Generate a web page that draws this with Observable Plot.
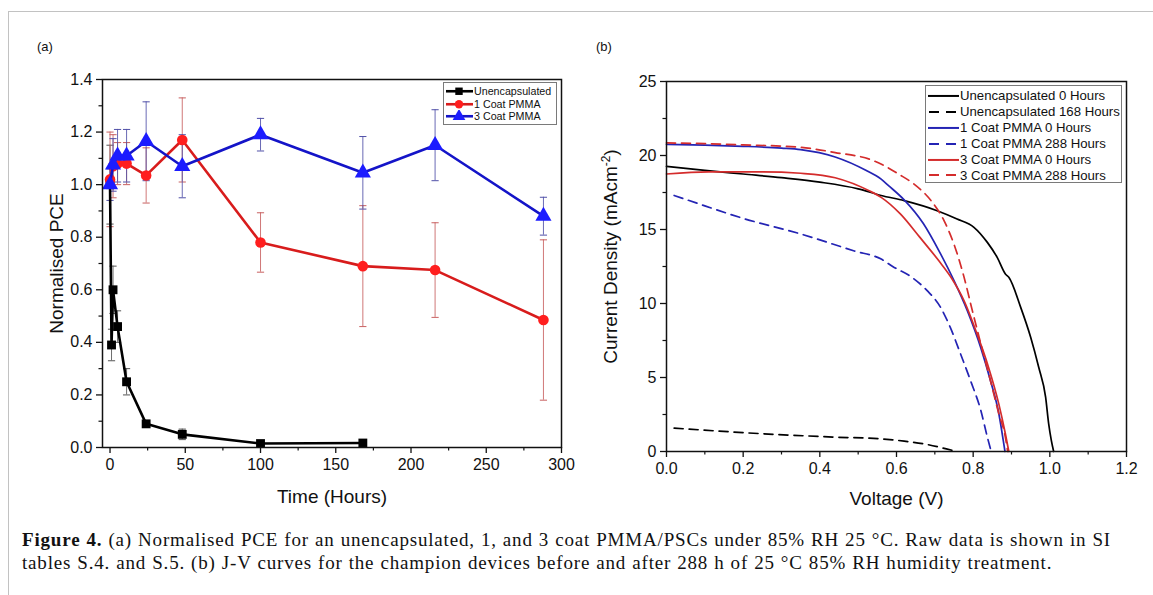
<!DOCTYPE html>
<html>
<head>
<meta charset="utf-8">
<script src="https://cdn.jsdelivr.net/npm/d3@7"></script>
<script src="https://cdn.jsdelivr.net/npm/@observablehq/plot@0.6"></script>
<style>
  body { margin: 0; background: #fff; }
  #wrap { position: relative; width: 1153px; height: 595px; overflow: hidden; font-family: "Liberation Sans", Arial, sans-serif; color: #111; }
  #border { position: absolute; left: 8px; top: 11px; width: 1200px; height: 700px; border-left: 1.5px solid #c2c2c2; border-top: 1.5px solid #c2c2c2; }
  .panel { position: absolute; top: 0; }
  .tag { position: absolute; top: 39px; font-size: 13px; }
  .legend { position: absolute; background: #fff; border: 1px solid #7a7a7a; box-sizing: border-box; }
  .legend .row { display: flex; align-items: center; white-space: nowrap; }
  .legend svg { flex: none; }
  #caption { position: absolute; left: 22px; top: 528px; font-family: "Liberation Serif", "Times New Roman", serif; font-size: 19px; letter-spacing: 0.82px; word-spacing: 0.5px; line-height: 23px; white-space: nowrap; color: #111; }
</style>
</head>
<body>
<div id="wrap">
  <div id="border"></div>
  <div class="tag" style="left:37px">(a)</div>
  <div class="tag" style="left:596px">(b)</div>
  <div id="panelA" class="panel" style="left:0px"></div>
  <div id="panelB" class="panel" style="left:580px"></div>
  <div id="legendA" class="legend"></div>
  <div id="legendB" class="legend"></div>
  <div id="caption"><b>Figure 4.</b> (a) Normalised PCE for an unencapsulated, 1, and 3 coat PMMA/PSCs under 85% RH 25 °C. Raw data is shown in SI<br>tables S.4. and S.5. (b) J-V curves for the champion devices before and after 288 h of 25 °C 85% RH humidity treatment.</div>
</div>
<script>
// ---------- Panel (a) data ----------
const seriesA = ["Unencapsulated", "1 Coat PMMA", "3 Coat PMMA"];
const unencTimes = [0, 1, 2, 5, 11, 24, 48, 100, 168];
const unencPCE   = [1.0, 0.39, 0.60, 0.46, 0.25, 0.09, 0.05, 0.015, 0.017];
const unencErr   = [0.15, 0.06, 0.09, 0.06, 0.05, 0.01, 0.02, 0.006, 0.006];
const pmmaTimes  = [0, 2, 5, 11, 24, 48, 100, 168, 216, 288];
const coat1PCE   = [1.02, 1.07, 1.08, 1.08, 1.035, 1.17, 0.78, 0.69, 0.675, 0.485];
const coat1Err   = [0.18, 0.12, 0.08, 0.08, 0.105, 0.16, 0.113, 0.23, 0.18, 0.305];
const coat3PCE   = [1.0, 1.075, 1.11, 1.11, 1.165, 1.07, 1.19, 1.045, 1.15, 0.88];
const coat3Err   = [0.06, 0.1, 0.1, 0.1, 0.15, 0.12, 0.062, 0.138, 0.135, 0.072];
const xTicksA = [0, 50, 100, 150, 200, 250, 300];
const yTicksA = [0, 0.2, 0.4, 0.6, 0.8, 1.0, 1.2, 1.4];

// ---------- Panel (b) data ----------
const seriesB = ["Unencapsulated 0 Hours", "Unencapsulated 168 Hours", "1 Coat PMMA 0 Hours", "1 Coat PMMA 288 Hours", "3 Coat PMMA 0 Hours", "3 Coat PMMA 288 Hours"];
const unenc0V   = [0, 0.1, 0.2, 0.3, 0.4, 0.5, 0.56, 0.62, 0.706, 0.758, 0.802, 0.837, 0.863, 0.884, 0.893, 0.924, 0.95, 0.971, 0.989, 0.997, 1.004, 1.01];
const unenc0J   = [19.26, 19.0, 18.75, 18.5, 18.2, 17.75, 17.3, 16.95, 16.27, 15.71, 15.15, 14.13, 13.1, 12.0, 11.77, 9.74, 7.72, 5.69, 3.67, 1.87, 0.74, 0];
const unenc168V = [0.02, 0.25, 0.44, 0.56, 0.62, 0.67, 0.73, 0.757];
const unenc168J = [1.58, 1.2, 0.97, 0.85, 0.7, 0.52, 0.18, 0];
const coat1_0V  = [0, 0.1, 0.2, 0.3, 0.35, 0.44, 0.52, 0.56, 0.58, 0.62, 0.67, 0.715, 0.75, 0.785, 0.82, 0.845, 0.867, 0.88, 0.883];
const coat1_0J  = [20.75, 20.7, 20.62, 20.5, 20.4, 19.9, 19.0, 18.4, 17.95, 17.0, 15.4, 13.35, 11.55, 9.5, 7.0, 4.8, 2.55, 0.5, 0];
const coat1_288V = [0.02, 0.1, 0.2, 0.35, 0.49, 0.56, 0.59, 0.64, 0.68, 0.715, 0.74, 0.767, 0.793, 0.82, 0.837, 0.847];
const coat1_288J = [17.3, 16.6, 15.75, 14.7, 13.55, 13.0, 12.5, 11.77, 10.87, 9.74, 8.4, 6.6, 4.8, 2.77, 0.97, 0];
const coat3_0V  = [0, 0.11, 0.25, 0.35, 0.44, 0.53, 0.56, 0.61, 0.66, 0.71, 0.745, 0.776, 0.81, 0.84, 0.867, 0.884, 0.893];
const coat3_0J  = [18.75, 18.9, 18.9, 18.8, 18.5, 17.6, 17.17, 16.05, 14.5, 12.9, 11.66, 10.2, 7.95, 5.7, 3.2, 1.2, 0];
const coat3_288V = [0, 0.1, 0.2, 0.35, 0.44, 0.54, 0.576, 0.605, 0.645, 0.69, 0.724, 0.75, 0.776, 0.798, 0.82, 0.845, 0.867, 0.884, 0.89];
const coat3_288J = [20.85, 20.8, 20.72, 20.55, 20.2, 19.65, 19.2, 18.75, 18.08, 16.95, 15.6, 14.0, 11.8, 9.5, 7.27, 4.8, 2.55, 0.97, 0];
const xTicksB = [0, 0.2, 0.4, 0.6, 0.8, 1.0, 1.2];
const yTicksB = [0, 5, 10, 15, 20, 25];

// ---------- styles ----------
const colorsA = ["#000000", "#d81c1c", "#1414c8"];
const markerFillA = ["#000000", "#ff1e1e", "#1c1cff"];
const errColorA = ["#555555", "#c86060", "#5050a8"];
const symbolsA = ["square", "circle", "triangle"];
const colorsB = ["#000000", "#000000", "#2424b4", "#2424b4", "#d42c2c", "#d42c2c"];
const dashB = [null, "9,6", null, "9,6", null, "9,6"];
const font = "Liberation Sans, Arial, sans-serif";

// horizontal cap symbol for error bars
const capSymbol = { draw(ctx, size) { const r = Math.sqrt(size / Math.PI); ctx.moveTo(-r, 0); ctx.lineTo(r, 0); } };

function rowsA() {
  const out = [];
  const sets = [[unencTimes, unencPCE, unencErr], [pmmaTimes, coat1PCE, coat1Err], [pmmaTimes, coat3PCE, coat3Err]];
  sets.forEach(([t, v, e], i) => t.forEach((tt, k) => out.push({ series: seriesA[i], t: tt, v: v[k], e: e[k] })));
  return out;
}
const dataA = rowsA();

function minorOf(ticks) { const m = []; for (let i = 0; i < ticks.length - 1; i++) m.push((ticks[i] + ticks[i + 1]) / 2); return m; }

const marksA = [];
seriesA.forEach((s, i) => {
  const d = dataA.filter(r => r.series === s);
  marksA.push(Plot.ruleX(d, { x: "t", y1: r => r.v - r.e, y2: r => r.v + r.e, stroke: errColorA[i], strokeWidth: 1, strokeOpacity: 0.85 }));
  marksA.push(Plot.dot(d, { x: "t", y: r => r.v + r.e, symbol: capSymbol, r: 3.6, stroke: errColorA[i], strokeWidth: 1, fill: "none" }));
  marksA.push(Plot.dot(d, { x: "t", y: r => r.v - r.e, symbol: capSymbol, r: 3.6, stroke: errColorA[i], strokeWidth: 1, fill: "none" }));
});
[0, 1, 2].forEach(i => {
  const d = dataA.filter(r => r.series === seriesA[i]);
  marksA.push(Plot.line(d, { x: "t", y: "v", stroke: colorsA[i], strokeWidth: 2.6 }));
  marksA.push(Plot.dot(d, { x: "t", y: "v", symbol: symbolsA[i], r: i === 2 ? 6 : (i === 1 ? 5.3 : 5), fill: markerFillA[i], stroke: "none" }));
});

const plotA = Plot.plot({
  width: 580, height: 520,
  marginLeft: 102, marginRight: 19, marginTop: 79, marginBottom: 73,
  style: { fontFamily: font, fontSize: "16px", color: "#111", background: "transparent", overflow: "visible" },
  x: { domain: [-5, 300] },
  y: { domain: [0, 1.4] },
  marks: [
    ...marksA,
    Plot.frame({ stroke: "#111", strokeWidth: 1.5 }),
    Plot.axisX(xTicksA, { tickSize: 6, tickPadding: 5, tickFormat: d => String(d), label: null, fontSize: 16, strokeWidth: 1.3 }),
    Plot.axisX(minorOf(xTicksA), { tickSize: 3.5, tickFormat: () => "", label: null, strokeWidth: 1.2 }),
    Plot.axisY(yTicksA, { tickSize: 6, tickPadding: 4, tickFormat: d3.format(".1f"), label: null, fontSize: 16, strokeWidth: 1.3 }),
    Plot.axisY(minorOf(yTicksA), { tickSize: 3.5, tickFormat: () => "", label: null, strokeWidth: 1.2 }),
    Plot.text(["Time (Hours)"], { frameAnchor: "bottom", textAnchor: "middle", lineAnchor: "middle", dy: 49, fontSize: 19, fill: "#111" }),
    Plot.text(["Normalised PCE"], { frameAnchor: "left", textAnchor: "middle", lineAnchor: "middle", rotate: -90, dx: -46, fontSize: 19, fill: "#111" })
  ]
});
document.getElementById("panelA").appendChild(plotA);

// ---------- Panel (b) ----------
const curvesB = [[unenc0V, unenc0J], [unenc168V, unenc168J], [coat1_0V, coat1_0J], [coat1_288V, coat1_288J], [coat3_0V, coat3_0J], [coat3_288V, coat3_288J]];
const dataB = [];
curvesB.forEach(([vs, js], i) => vs.forEach((v, k) => dataB.push({ series: seriesB[i], v, j: js[k] })));

const marksB = seriesB.map((s, i) => Plot.line(dataB.filter(r => r.series === s), {
  x: "v", y: "j", stroke: colorsB[i], strokeWidth: 1.7, strokeDasharray: dashB[i] || undefined, curve: "monotone-x"
}));

const plotB = Plot.plot({
  width: 573, height: 520,
  marginLeft: 86, marginRight: 27, marginTop: 81, marginBottom: 69,
  style: { fontFamily: font, fontSize: "16px", color: "#111", background: "transparent", overflow: "visible" },
  x: { domain: [0, 1.2] },
  y: { domain: [0, 25] },
  marks: [
    ...marksB,
    Plot.frame({ stroke: "#111", strokeWidth: 1.5 }),
    Plot.axisX(xTicksB, { tickSize: 6, tickPadding: 5, tickFormat: d3.format(".1f"), label: null, fontSize: 16, strokeWidth: 1.3 }),
    Plot.axisX(minorOf(xTicksB), { tickSize: 3.5, tickFormat: () => "", label: null, strokeWidth: 1.2 }),
    Plot.axisY(yTicksB, { tickSize: 6, tickPadding: 4, tickFormat: d => String(d), label: null, fontSize: 16, strokeWidth: 1.3 }),
    Plot.axisY(minorOf(yTicksB), { tickSize: 3.5, tickFormat: () => "", label: null, strokeWidth: 1.2 }),
    Plot.text(["Voltage (V)"], { frameAnchor: "bottom", textAnchor: "middle", lineAnchor: "middle", dy: 47, fontSize: 19, fill: "#111" }),
    Plot.text(["Current Density (mAcm-2)"], { frameAnchor: "left", textAnchor: "middle", lineAnchor: "middle", rotate: -90, dx: -56, dy: -10, fontSize: 19, fill: "#111" })
  ]
});
document.getElementById("panelB").appendChild(plotB);
// superscript for units
plotB.querySelectorAll("text").forEach(t => {
  if (t.textContent === "Current Density (mAcm-2)") {
    t.textContent = "";
    const ns = "http://www.w3.org/2000/svg";
    const a = document.createElementNS(ns, "tspan"); a.textContent = "Current Density (mAcm";
    const b = document.createElementNS(ns, "tspan"); b.textContent = "-2"; b.setAttribute("dy", "-7"); b.setAttribute("font-size", "12");
    const c = document.createElementNS(ns, "tspan"); c.textContent = ")"; c.setAttribute("dy", "7");
    t.append(a, b, c);
  }
});

// ---------- Legends ----------
function legendRow(container, label, drawSample, fontSize, rowH, sampleW) {
  const row = document.createElement("div");
  row.className = "row";
  row.style.height = rowH + "px";
  row.style.fontSize = fontSize + "px";
  const svg = d3.create("svg").attr("width", sampleW).attr("height", rowH);
  drawSample(svg, sampleW, rowH);
  row.appendChild(svg.node());
  const span = document.createElement("span");
  span.textContent = label;
  span.style.marginLeft = "1px";
  row.appendChild(span);
  container.appendChild(row);
}
const legA = document.getElementById("legendA");
Object.assign(legA.style, { left: "443px", top: "82px", width: "114px", height: "43px", padding: "2px 0 0 1px" });
const d3Sym = { square: d3.symbolSquare, circle: d3.symbolCircle, triangle: d3.symbolTriangle };
seriesA.forEach((s, i) => legendRow(legA, s, (svg, w, h) => {
  svg.append("line").attr("x1", 1).attr("x2", w).attr("y1", h / 2).attr("y2", h / 2).attr("stroke", colorsA[i]).attr("stroke-width", 2.6);
  svg.append("path").attr("d", d3.symbol(d3Sym[symbolsA[i]], i === 2 ? 70 : 55)()).attr("transform", `translate(${w / 2},${h / 2})`).attr("fill", markerFillA[i]);
}, 10.7, 12.5, 28));

const legB = document.getElementById("legendB");
Object.assign(legB.style, { left: "925px", top: "85px", width: "197px", height: "98px", padding: "2px 0 0 1px" });
seriesB.forEach((s, i) => legendRow(legB, s, (svg, w, h) => {
  const l = svg.append("line").attr("x1", 1).attr("x2", w).attr("y1", h / 2).attr("y2", h / 2).attr("stroke", colorsB[i]).attr("stroke-width", 2);
  if (dashB[i]) l.attr("stroke-dasharray", "10,7").attr("stroke-dashoffset", -1);
}, 13.2, 15.9, 32));
</script>
</body>
</html>
